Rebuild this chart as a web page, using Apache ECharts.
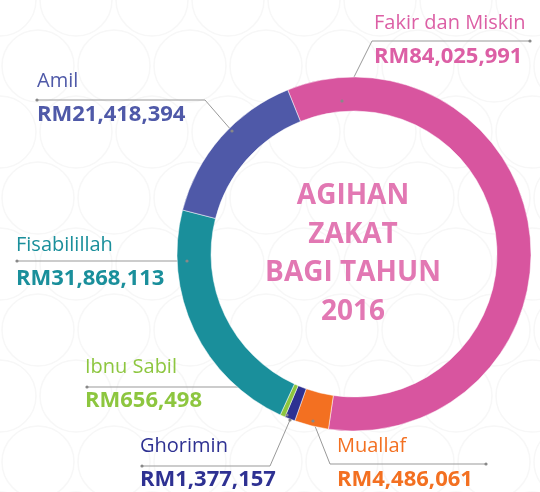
<!DOCTYPE html>
<html>
<head>
<meta charset="utf-8">
<script src="https://cdn.jsdelivr.net/npm/echarts@6/dist/echarts.min.js"></script>
<style>
  html, body { margin: 0; padding: 0; background: #fff; }
  #main { width: 540px; height: 492px; }
</style>
</head>
<body>
<div id="main"></div>
<script>
// kategori agihan, ikut arah jam bermula dari Fakir dan Miskin
var categories = ['Fakir dan Miskin', 'Muallaf', 'Ghorimin', 'Ibnu Sabil', 'Fisabilillah', 'Amil']
var amounts = [84025991, 4486061, 1377157, 656498, 31868113, 21418394]
var sliceColors = ['#d8559f', '#f37021', '#2e3192', '#8dc63f', '#1a8f9b', '#4f59a8']
var textColors = ['#dc5fa5', '#f37021', '#2e3192', '#8dc63f', '#1a8f9b', '#4f59a8']

// kedudukan label: [x, y, titik garisan]
var labelSpots = [
  [374, 40, [[342, 101], [372, 41], [530, 41]]],
  [337, 463, [[313, 421], [330, 464], [486, 464]]],
  [140, 463, [[290, 420], [270, 466], [142, 466]]],
  [85, 384, [[287, 415], [253, 387], [87, 387]]],
  [16, 262, [[187, 261], [17, 261]]],
  [37, 98, [[232, 131], [205, 100], [37, 100]]]
]

function fmt(v) {
  return 'RM' + v.toString().replace(/\B(?=(\d{3})+(?!\d))/g, ',')
}

var chartDom = document.getElementById('main')
var myChart = echarts.init(chartDom)

var bg = []
for (var i = -1; i < 9; i++) {
  for (var j = -1; j < 9; j++) {
    bg.push({
      type: 'circle',
      silent: true,
      z: -10,
      shape: { cx: i * 76 + (j % 2) * 38, cy: j * 66, r: 36 },
      style: { fill: null, stroke: '#f7f7f7', lineWidth: 1.5 }
    })
  }
}

var dots = []
labelSpots.forEach(function(s) {
  var pts = s[2]
  ;[pts[0], pts[pts.length - 1]].forEach(function(p) {
    dots.push({
      type: 'circle',
      silent: true,
      z: 10,
      shape: { cx: p[0], cy: p[1], r: 1.6 },
      style: { fill: '#888' }
    })
  })
})

var option = {
  backgroundColor: '#fff',
  textStyle: { fontFamily: 'Open Sans' },
  graphic: bg.concat(dots).concat([
    {
      type: 'text',
      z: 10,
      x: 353,
      y: 254,
      style: {
        text: 'AGIHAN\nZAKAT\nBAGI TAHUN\n2016',
        fill: '#e278b3',
        font: 'bold 28px "Open Sans"',
        lineHeight: 38.6,
        textAlign: 'center',
        textVerticalAlign: 'middle'
      }
    }
  ]),
  series: [
    {
      type: 'pie',
      center: [354, 254],
      radius: [143, 177],
      startAngle: 112,
      clockwise: true,
      avoidLabelOverlap: false,
      itemStyle: { borderColor: '#fff', borderWidth: 0.5 },
      label: {
        show: true,
        position: 'outside',
        formatter: function(p) {
          return '{n' + p.dataIndex + '|' + p.name + '}\n{v' + p.dataIndex + '|' + fmt(p.value) + '}'
        },
        rich: (function() {
          var r = {}
          textColors.forEach(function(c, k) {
            r['n' + k] = { color: c, fontSize: 20, fontFamily: 'Open Sans', lineHeight: 34 }
            r['v' + k] = { color: c, fontSize: 22, fontWeight: 'bold', fontFamily: 'Open Sans', lineHeight: 34 }
          })
          return r
        })()
      },
      labelLine: {
        show: true,
        lineStyle: { color: '#999', width: 1 }
      },
      labelLayout: function(params) {
        var s = labelSpots[params.dataIndex]
        return {
          x: s[0],
          y: s[1],
          align: 'left',
          verticalAlign: 'middle',
          labelLinePoints: s[2]
        }
      },
      emphasis: { disabled: true },
      data: categories.map(function(c, k) {
        return { name: c, value: amounts[k], itemStyle: { color: sliceColors[k] } }
      })
    }
  ]
}

option && myChart.setOption(option)
</script>
</body>
</html>
